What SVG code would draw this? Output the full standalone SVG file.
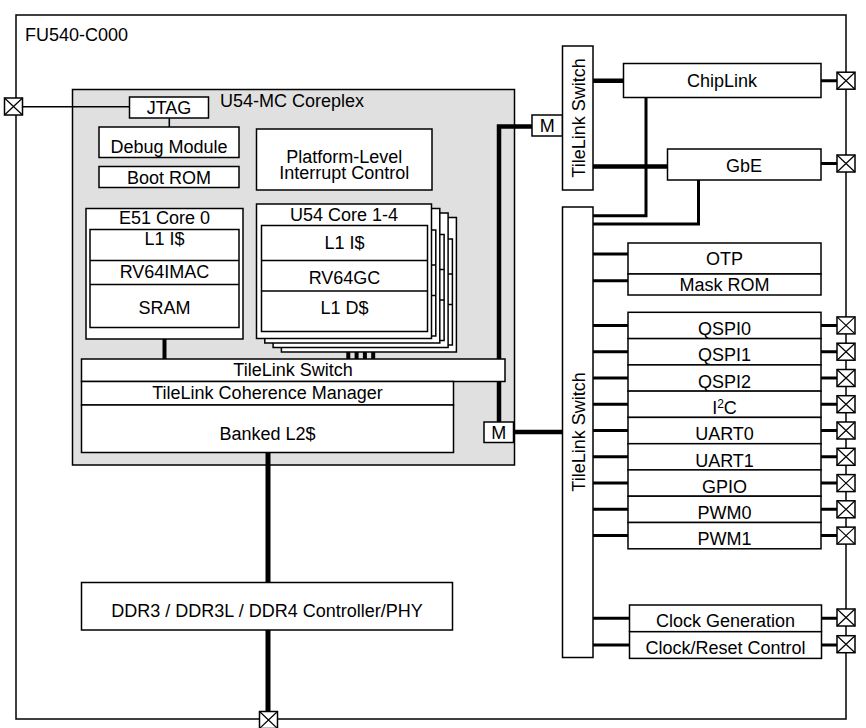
<svg xmlns="http://www.w3.org/2000/svg" xmlns:xlink="http://www.w3.org/1999/xlink" width="866" height="728" viewBox="0 0 866 728">
<style>
.box{fill:#fff;stroke:#000;stroke-width:1.5}
.t{font-family:"Liberation Sans",Arial,sans-serif;font-size:18px;fill:#000;text-anchor:middle}
.ts{font-family:"Liberation Sans",Arial,sans-serif;font-size:18px;fill:#000;text-anchor:start}
.thick{stroke:#000;stroke-width:4.5;fill:none}
.core{stroke:#000;stroke-width:4;fill:none}
.med{stroke:#000;stroke-width:3;fill:none}
.thin{stroke:#000;stroke-width:1.6;fill:none}
</style>
<defs>
<g id="pad"><rect x="-9" y="-8.5" width="18" height="17" fill="#fff" stroke="#000" stroke-width="1.5"/><path d="M-9,-8.5L9,8.5M9,-8.5L-9,8.5" stroke="#000" stroke-width="1.2" fill="none"/></g>
<g id="u54box"><rect class="box" x="256.5" y="204" width="175" height="134.5"/><rect class="box" x="261.5" y="225.5" width="166" height="106"/><path d="M261.5,260.5H427.5M261.5,291H427.5" stroke="#000" stroke-width="1.5"/></g>
</defs>
<g id="chip"><rect x="16" y="15" width="830" height="704" fill="#fff" stroke="#000" stroke-width="1.5"/><text class="ts" x="25" y="41">FU540-C000</text></g>
<g id="coreplex"><rect x="72.5" y="89.5" width="442" height="375.5" fill="#e0e0e0" stroke="#000" stroke-width="1.5"/><text class="ts" x="220" y="106.5">U54-MC Coreplex</text></g>
<g id="connectors">
<path class="thin" d="M22.5,106.8H129.5"/>
<path class="thin" d="M169.3,118V127"/>
<path class="core" d="M164.5,339V359"/>
<path class="core" d="M348.3,338.5V359M356.6,343V359M364.9,347.5V359M373.2,352V359"/>
<path class="thick" d="M532,126.5H499V422"/>
<path class="thick" d="M513.5,432H562.5"/>
<path class="thick" d="M593,80.7H623.5M593,166.5H667.5"/>
<path class="med" d="M646,97.5V215.7H593M698.5,180V224H593"/>
<path class="med" d="M821,80.7H837M821,163.5H837"/>
<path class="med" d="M593,254H628M593,280.7H628"/>
<path class="med" d="M593,325.4H628M593,351.7H628M593,378H628M593,404.2H628M593,430.5H628M593,456.8H628M593,483.1H628M593,509.3H628M593,535.6H628"/>
<path class="med" d="M821,325.4H837M821,351.7H837M821,378H837M821,404.2H837M821,430.5H837M821,456.8H837M821,483.1H837M821,509.3H837M821,535.6H837"/>
<path class="med" d="M593,618.3H629.5M593,645H629.5M821.5,618.3H837M821.5,645H837"/>
<path stroke="#000" stroke-width="5" fill="none" d="M268,452.5V711"/>
</g>
<g id="jtag"><rect class="box" x="129.5" y="97" width="79" height="21"/><text class="t" x="169" y="113.5">JTAG</text></g>
<g id="debug"><rect class="box" x="99" y="127" width="140" height="30.5"/><text class="t" x="169" y="152.5">Debug Module</text></g>
<g id="bootrom"><rect class="box" x="99" y="166.5" width="140" height="21"/><text class="t" x="169" y="184">Boot ROM</text></g>
<g id="plic"><rect class="box" x="256.5" y="129" width="175.5" height="61"/><text class="t" x="344.3" y="163.3">Platform-Level</text><text class="t" x="344.3" y="178.7">Interrupt Control</text></g>
<g id="e51"><rect class="box" x="86" y="208.5" width="157" height="130.5"/><text class="t" x="164.5" y="224">E51 Core 0</text>
<rect class="box" x="90" y="229.5" width="149" height="98"/><path d="M90,260.5H239M90,284.5H239" stroke="#000" stroke-width="1.5"/>
<text class="t" x="164.5" y="245">L1 I$</text><text class="t" x="164.5" y="277.5">RV64IMAC</text><text class="t" x="164.5" y="314">SRAM</text></g>
<g id="u54">
<use xlink:href="#u54box" transform="translate(24.9,13.5)"/>
<use xlink:href="#u54box" transform="translate(16.6,9)"/>
<use xlink:href="#u54box" transform="translate(8.3,4.5)"/>
<use xlink:href="#u54box"/>
<text class="t" x="344" y="220.5">U54 Core 1-4</text>
<text class="t" x="344.5" y="248.5">L1 I$</text><text class="t" x="344.5" y="284">RV64GC</text><text class="t" x="344.5" y="313.5">L1 D$</text></g>
<g id="tlswitch"><rect class="box" x="81.5" y="359" width="423.5" height="22.5"/><text class="t" x="293" y="376">TileLink Switch</text></g>
<g id="coherence"><rect class="box" x="81.5" y="381.5" width="372" height="23.5"/><text class="t" x="267.5" y="399">TileLink Coherence Manager</text></g>
<g id="l2"><rect class="box" x="81.5" y="405" width="372" height="47.5"/><text class="t" x="267.5" y="439.5">Banked L2$</text></g>
<g id="m-top"><rect class="box" x="532" y="115" width="30.5" height="21"/><text class="t" x="547.2" y="132">M</text></g>
<g id="m-bottom"><rect class="box" x="484" y="422" width="29.5" height="20.5"/><text class="t" x="498.8" y="439">M</text></g>
<g id="switch-top"><rect class="box" x="562.5" y="46" width="30.5" height="144"/><text class="t" transform="translate(584.5,118) rotate(-90)">TileLink Switch</text></g>
<g id="chiplink"><rect class="box" x="623.5" y="63.5" width="197.5" height="34"/><text class="t" x="722" y="86.5">ChipLink</text></g>
<g id="gbe"><rect class="box" x="667.5" y="149" width="153.5" height="31"/><text class="t" x="744" y="171.5">GbE</text></g>
<g id="switch-bottom"><rect class="box" x="562.5" y="207" width="30.5" height="450.5"/><text class="t" transform="translate(585,432) rotate(-90)">TileLink Switch</text></g>
<g id="otp"><rect class="box" x="628" y="243" width="193" height="31"/><text class="t" x="724.5" y="265">OTP</text></g>
<g id="maskrom"><rect class="box" x="628" y="274" width="193" height="21"/><text class="t" x="724.5" y="290.5">Mask ROM</text></g>
<g id="qspi0"><rect class="box" x="628" y="312.3" width="193" height="26.3"/><text class="t" x="724.5" y="335.1">QSPI0</text></g>
<g id="qspi1"><rect class="box" x="628" y="338.6" width="193" height="26.3"/><text class="t" x="724.5" y="361.4">QSPI1</text></g>
<g id="qspi2"><rect class="box" x="628" y="364.9" width="193" height="26.3"/><text class="t" x="724.5" y="387.6">QSPI2</text></g>
<g id="i2c"><rect class="box" x="628" y="391.1" width="193" height="26.3"/><text class="t" x="724.5" y="413.9">I<tspan font-size="12" dy="-6">2</tspan><tspan dy="6">C</tspan></text></g>
<g id="uart0"><rect class="box" x="628" y="417.4" width="193" height="26.3"/><text class="t" x="724.5" y="440.2">UART0</text></g>
<g id="uart1"><rect class="box" x="628" y="443.7" width="193" height="26.3"/><text class="t" x="724.5" y="466.5">UART1</text></g>
<g id="gpio"><rect class="box" x="628" y="469.9" width="193" height="26.3"/><text class="t" x="724.5" y="492.7">GPIO</text></g>
<g id="pwm0"><rect class="box" x="628" y="496.2" width="193" height="26.3"/><text class="t" x="724.5" y="519">PWM0</text></g>
<g id="pwm1"><rect class="box" x="628" y="522.5" width="193" height="26.3"/><text class="t" x="724.5" y="545.3">PWM1</text></g>
<g id="clockgen"><rect class="box" x="629.5" y="605" width="192" height="26.7"/><text class="t" x="725.5" y="627">Clock Generation</text></g>
<g id="clockreset"><rect class="box" x="629.5" y="631.7" width="192" height="26.7"/><text class="t" x="725.5" y="654">Clock/Reset Control</text></g>
<g id="ddr"><rect class="box" x="81.5" y="582.5" width="371" height="47.5"/><text class="t" x="267" y="617">DDR3 / DDR3L / DDR4 Controller/PHY</text></g>
<g id="pads">
<use id="pad-jtag" xlink:href="#pad" x="13.5" y="106.5"/>
<use id="pad-chiplink" xlink:href="#pad" x="846" y="80.7"/>
<use id="pad-gbe" xlink:href="#pad" x="846" y="163.5"/>
<use id="pad-qspi0" xlink:href="#pad" x="846" y="325.4"/>
<use id="pad-qspi1" xlink:href="#pad" x="846" y="351.7"/>
<use id="pad-qspi2" xlink:href="#pad" x="846" y="378"/>
<use id="pad-i2c" xlink:href="#pad" x="846" y="404.2"/>
<use id="pad-uart0" xlink:href="#pad" x="846" y="430.5"/>
<use id="pad-uart1" xlink:href="#pad" x="846" y="456.8"/>
<use id="pad-gpio" xlink:href="#pad" x="846" y="483.1"/>
<use id="pad-pwm0" xlink:href="#pad" x="846" y="509.3"/>
<use id="pad-pwm1" xlink:href="#pad" x="846" y="535.6"/>
<use id="pad-clkgen" xlink:href="#pad" x="846" y="617.5"/>
<use id="pad-clkrst" xlink:href="#pad" x="846" y="644.2"/>
<use id="pad-ddr" xlink:href="#pad" x="268.5" y="720"/>
</g>
</svg>
